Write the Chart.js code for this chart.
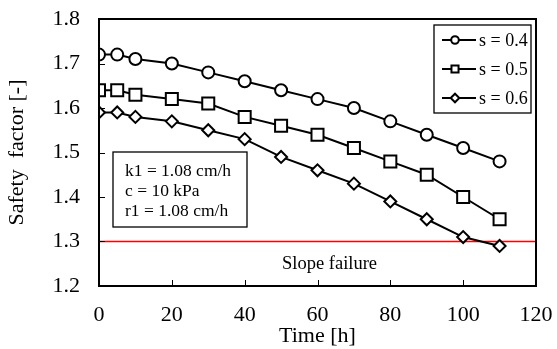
<!DOCTYPE html>
<html>
<head>
<meta charset="utf-8">
<script src="https://cdn.jsdelivr.net/npm/chart.js@4/dist/chart.umd.min.js"></script>
<style>
  html, body { margin: 0; padding: 0; background: #fff; }
  #wrap { width: 557px; height: 349px; }
</style>
</head>
<body>
<div id="wrap"><canvas id="grafico" width="557" height="349"></canvas></div>
<script>
// dados do gráfico
var tempo = [0, 5, 10, 20, 30, 40, 50, 60, 70, 80, 90, 100, 110];
var s04 = [1.72, 1.72, 1.71, 1.70, 1.68, 1.66, 1.64, 1.62, 1.60, 1.57, 1.54, 1.51, 1.48];
var s05 = [1.64, 1.64, 1.63, 1.62, 1.61, 1.58, 1.56, 1.54, 1.51, 1.48, 1.45, 1.40, 1.35];
var s06 = [1.59, 1.59, 1.58, 1.57, 1.55, 1.53, 1.49, 1.46, 1.43, 1.39, 1.35, 1.31, 1.29];
var rotulos = ['s = 0.4', 's = 0.5', 's = 0.6'];
var limite = 1.3;
var xTicks = [0, 20, 40, 60, 80, 100, 120];
var yTicks = [1.2, 1.3, 1.4, 1.5, 1.6, 1.7, 1.8];

var fonte = 'Liberation Serif, Times New Roman, serif';

function pontos(ys) {
    return tempo.map(function (t, i) { return { x: t, y: ys[i] }; });
}

function serie(label, ys, estilo, raio, raioLegenda) {
    return {
        label: label,
        data: pontos(ys),
        borderColor: '#000',
        borderWidth: 2,
        pointStyle: estilo,
        pointRadius: raio,
        raioLegenda: raioLegenda,
        pointBackgroundColor: '#fff',
        pointBorderColor: '#000',
        pointBorderWidth: 2,
        tension: 0
    };
}

var dados = {
    datasets: [
        serie(rotulos[0], s04, 'circle', 6, 3.8),
        serie(rotulos[1], s05, 'rect', 8.5, 5),
        serie(rotulos[2], s06, 'rectRot', 6, 4.3),
        {
            label: 'limite',
            data: [{ x: 0, y: limite }, { x: 120, y: limite }],
            borderColor: '#ff0000',
            borderWidth: 1.5,
            pointRadius: 0,
            order: 10
        }
    ]
};

// moldura, marcas internas, caixas de texto e legenda
var extras = {
    id: 'extras',
    afterDatasetsDraw: function (chart) {
        var c = chart.ctx, a = chart.chartArea;
        var sx = chart.scales.x, sy = chart.scales.y;
        c.save();
        c.strokeStyle = '#000';
        c.lineWidth = 1;
        // marcas internas
        xTicks.forEach(function (v) {
            if (v === 0 || v === 120) return;
            var px = Math.round(sx.getPixelForValue(v)) + 0.5;
            c.beginPath(); c.moveTo(px, a.bottom); c.lineTo(px, a.bottom - 6); c.stroke();
        });
        yTicks.forEach(function (v) {
            var py = Math.round(sy.getPixelForValue(v)) + 0.5;
            c.beginPath(); c.moveTo(a.left, py); c.lineTo(a.left + 6, py); c.stroke();
        });
        // moldura
        c.lineWidth = 2;
        c.strokeRect(a.left, a.top, a.right - a.left, a.bottom - a.top);

        c.textBaseline = 'middle';
        // caixa de parâmetros
        c.lineWidth = 1.3;
        c.fillStyle = '#fff';
        c.fillRect(113, 152, 134, 75);
        c.strokeRect(113, 152, 134, 75);
        c.fillStyle = '#000';
        c.textAlign = 'left';
        c.font = '17.5px ' + fonte;
        c.fillText('k1 = 1.08 cm/h', 125, 171);
        c.fillText('c = 10 kPa', 125, 191);
        c.fillText('r1 = 1.08 cm/h', 125, 211);
        // texto da ruptura
        c.font = '18.5px ' + fonte;
        c.fillText('Slope failure', 282, 264);

        // legenda
        c.fillStyle = '#fff';
        c.fillRect(434, 25, 97, 88);
        c.lineWidth = 1.3;
        c.strokeRect(434, 25, 97, 88);
        var ys = [40, 69, 98];
        chart.data.datasets.slice(0, 3).forEach(function (ds, i) {
            c.strokeStyle = '#000';
            c.lineWidth = 2;
            c.beginPath(); c.moveTo(442, ys[i]); c.lineTo(476, ys[i]); c.stroke();
            c.fillStyle = '#fff';
            Chart.helpers.drawPoint(c, {
                pointStyle: ds.pointStyle, radius: ds.raioLegenda, rotation: 0, borderWidth: 2
            }, 455, ys[i]);
            c.fillStyle = '#000';
            c.font = '18px ' + fonte;
            c.fillText(ds.label, 479, ys[i] + 1);
        });
        c.restore();
    }
};

var opcoes = {
    responsive: false,
    animation: false,
    layout: { padding: { top: 19, right: 21, left: 4, bottom: 0 } },
    plugins: { legend: { display: false }, tooltip: { enabled: false } },
    scales: {
        x: {
            type: 'linear',
            min: 0, max: 120,
            afterBuildTicks: function (ax) { ax.ticks = xTicks.map(function (v) { return { value: v }; }); },
            grid: { display: false, drawTicks: false },
            border: { display: false },
            ticks: { color: '#000', font: { family: fonte, size: 22 }, padding: 16, maxRotation: 0 },
            title: { display: true, text: 'Time [h]', color: '#000', font: { family: fonte, size: 22 }, padding: 0 },
            afterFit: function (ax) { ax.height = 63; ax.paddingLeft = 0; ax.paddingRight = 0; }
        },
        y: {
            min: 1.2, max: 1.8,
            afterBuildTicks: function (ax) { ax.ticks = yTicks.map(function (v) { return { value: v }; }); },
            grid: { display: false, drawTicks: false },
            border: { display: false },
            ticks: { color: '#000', font: { family: fonte, size: 22 }, padding: 19, callback: function (v) { return v.toFixed(1); } },
            title: { display: true, text: 'Safety  factor [-]', color: '#000', font: { family: fonte, size: 22 }, padding: 0 },
            afterFit: function (ax) { ax.width = 95; ax.paddingTop = 0; ax.paddingBottom = 0; }
        }
    }
};

var ctx = document.querySelector('#grafico').getContext('2d');
var grafico = new Chart(ctx, {
    type: 'line',
    data: dados,
    options: opcoes,
    plugins: [extras]
});
</script>
</body>
</html>
